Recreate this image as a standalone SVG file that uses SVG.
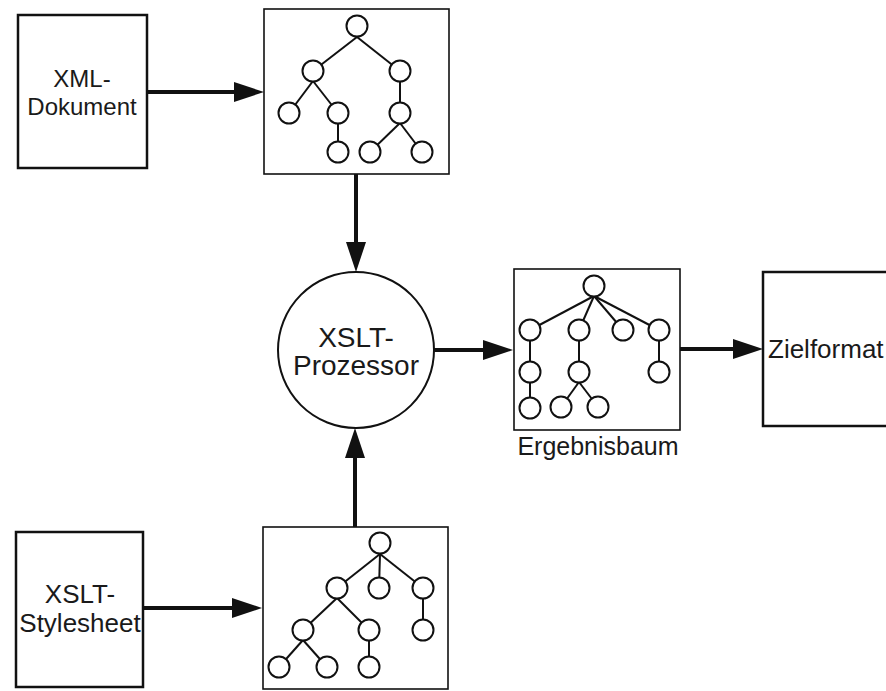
<svg xmlns="http://www.w3.org/2000/svg" width="886" height="691" viewBox="0 0 886 691">
<style>
  .box{fill:#fff;stroke:#111;stroke-width:2.5}
  .tbox{fill:#fff;stroke:#111;stroke-width:1.6}
  .edge{stroke:#111;stroke-width:2;fill:none}
  .node{fill:#fff;stroke:#111;stroke-width:2}
  .conn{stroke:#111;stroke-width:4;fill:none}
  text{font-family:"Liberation Sans",Arial,sans-serif;fill:#1a1a1a}
</style>
<defs>
  <marker id="ah" markerUnits="userSpaceOnUse" viewBox="0 0 30 20" markerWidth="30" markerHeight="20" refX="10" refY="10" orient="auto">
    <path d="M0,0 L30,10 L0,20 z" fill="#111"/>
  </marker>
</defs>
<rect x="0" y="0" width="886" height="691" fill="#fff"/>

<g id="xml-dokument">
  <rect class="box" x="18" y="15" width="129" height="153"/>
  <text x="82" y="87" font-size="24" text-anchor="middle">XML-</text>
  <text x="82" y="115" font-size="24" text-anchor="middle">Dokument</text>
</g>

<g id="xml-baum">
  <rect class="tbox" x="264" y="9" width="185" height="165"/>
  <g class="edge">
    <line x1="357" y1="37" x2="313" y2="71"/>
    <line x1="357" y1="37" x2="400" y2="71"/>
    <line x1="313" y1="81" x2="289" y2="113"/>
    <line x1="313" y1="81" x2="338" y2="113"/>
    <line x1="338" y1="113" x2="338" y2="152"/>
    <line x1="400" y1="71" x2="400" y2="113"/>
    <line x1="400" y1="123" x2="370" y2="152"/>
    <line x1="400" y1="123" x2="422" y2="152"/>
  </g>
  <g class="node">
    <circle cx="357" cy="26" r="10.5"/>
    <circle cx="313" cy="71" r="10.5"/>
    <circle cx="400" cy="71" r="10.5"/>
    <circle cx="289" cy="113" r="10.5"/>
    <circle cx="338" cy="113" r="10.5"/>
    <circle cx="400" cy="113" r="10.5"/>
    <circle cx="338" cy="152" r="10.5"/>
    <circle cx="370" cy="152" r="10.5"/>
    <circle cx="422" cy="152" r="10.5"/>
  </g>
</g>

<g id="xslt-prozessor">
  <circle cx="356" cy="350" r="78" fill="#fff" stroke="#111" stroke-width="2"/>
  <text x="356" y="347" font-size="28" text-anchor="middle">XSLT-</text>
  <text x="356" y="375" font-size="28" text-anchor="middle">Prozessor</text>
</g>

<g id="ergebnisbaum">
  <rect class="tbox" x="514" y="269" width="166" height="161"/>
  <g class="edge">
    <line x1="594" y1="296" x2="530" y2="330"/>
    <line x1="594" y1="296" x2="579" y2="330"/>
    <line x1="594" y1="296" x2="623" y2="330"/>
    <line x1="594" y1="296" x2="659" y2="330"/>
    <line x1="530" y1="330" x2="530" y2="408"/>
    <line x1="579" y1="330" x2="579" y2="372"/>
    <line x1="579" y1="382" x2="561" y2="407"/>
    <line x1="579" y1="382" x2="598" y2="407"/>
    <line x1="659" y1="330" x2="659" y2="372"/>
  </g>
  <g class="node">
    <circle cx="594" cy="286" r="10.5"/>
    <circle cx="530" cy="330" r="10.5"/>
    <circle cx="579" cy="330" r="10.5"/>
    <circle cx="623" cy="330" r="10.5"/>
    <circle cx="659" cy="330" r="10.5"/>
    <circle cx="530" cy="372" r="10.5"/>
    <circle cx="579" cy="372" r="10.5"/>
    <circle cx="659" cy="372" r="10.5"/>
    <circle cx="530" cy="408" r="10.5"/>
    <circle cx="561" cy="407" r="10.5"/>
    <circle cx="598" cy="407" r="10.5"/>
  </g>
  <text x="598" y="455" font-size="25" text-anchor="middle">Ergebnisbaum</text>
</g>

<g id="zielformat">
  <rect class="box" x="763" y="272" width="200" height="154"/>
  <text x="768" y="358" font-size="26">Zielformat</text>
</g>

<g id="xslt-stylesheet">
  <rect class="box" x="16" y="532" width="127" height="155"/>
  <text x="80" y="603" font-size="26" text-anchor="middle">XSLT-</text>
  <text x="80" y="632" font-size="26" text-anchor="middle">Stylesheet</text>
</g>

<g id="stylesheet-baum">
  <rect class="tbox" x="263" y="527" width="185" height="162"/>
  <g class="edge">
    <line x1="380" y1="554" x2="337" y2="588"/>
    <line x1="380" y1="554" x2="379" y2="588"/>
    <line x1="380" y1="554" x2="423" y2="588"/>
    <line x1="337" y1="598" x2="303" y2="630"/>
    <line x1="337" y1="598" x2="369" y2="630"/>
    <line x1="423" y1="588" x2="423" y2="630"/>
    <line x1="303" y1="640" x2="279" y2="667"/>
    <line x1="303" y1="640" x2="327" y2="667"/>
    <line x1="369" y1="630" x2="369" y2="667"/>
  </g>
  <g class="node">
    <circle cx="380" cy="543" r="10.5"/>
    <circle cx="337" cy="588" r="10.5"/>
    <circle cx="379" cy="588" r="10.5"/>
    <circle cx="423" cy="588" r="10.5"/>
    <circle cx="303" cy="630" r="10.5"/>
    <circle cx="369" cy="630" r="10.5"/>
    <circle cx="423" cy="630" r="10.5"/>
    <circle cx="279" cy="667" r="10.5"/>
    <circle cx="327" cy="667" r="10.5"/>
    <circle cx="369" cy="667" r="10.5"/>
  </g>
</g>

<g id="connectors">
  <path class="conn" d="M147,92 H244" marker-end="url(#ah)"/>
  <path class="conn" d="M356,174 V252" marker-end="url(#ah)"/>
  <path class="conn" d="M434,350 H493" marker-end="url(#ah)"/>
  <path class="conn" d="M355,527 V448" marker-end="url(#ah)"/>
  <path class="conn" d="M143,608 H242" marker-end="url(#ah)"/>
  <path class="conn" d="M680,349 H743" marker-end="url(#ah)"/>
</g>
</svg>
